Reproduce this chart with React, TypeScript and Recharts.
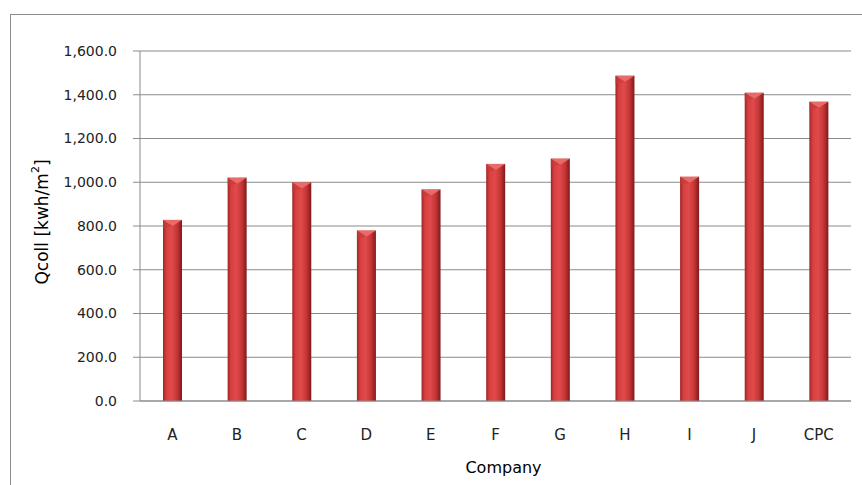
import React from "react";
import {
  BarChart,
  Bar,
  XAxis,
  YAxis,
  CartesianGrid,
  Label,
} from "recharts";

const companies = ["A", "B", "C", "D", "E", "F", "G", "H", "I", "J", "CPC"];
const qcoll = [828, 1021, 999, 779, 967, 1084, 1108, 1487, 1025, 1409, 1368];
const yTicks = [0, 200, 400, 600, 800, 1000, 1200, 1400, 1600];

const data = companies.map((name, i) => ({ name, qcoll: qcoll[i] }));

const FONT = "'DejaVu Sans', sans-serif";

// cylinder-ish bar with a small bevel on top, like the Excel 3D look
function BarShape(props: any) {
  const { x, y, width, height } = props;
  if (!height || height <= 0) return null;
  const cap = Math.min(6, height / 2);
  return (
    <g>
      <rect x={x} y={y} width={width} height={height} fill="url(#barGrad)" />
      <polygon
        points={`${x},${y} ${x + width},${y} ${x + width / 2},${y + cap}`}
        fill="#e86a6a"
      />
      <polygon
        points={`${x},${y} ${x + width / 2},${y + cap} ${x},${y + cap * 1.4}`}
        fill="#c43a3a"
        opacity={0.6}
      />
    </g>
  );
}

function YTitle(props: any) {
  const cx = 42;
  const cy = 222;
  return (
    <text
      x={cx}
      y={cy}
      transform={`rotate(-90 ${cx} ${cy})`}
      textAnchor="middle"
      dominantBaseline="central"
      fontFamily={FONT}
      fontSize={17}
      fill="#000"
    >
      Qcoll [kwh/m
      <tspan dy={-7} fontSize={11}>
        2
      </tspan>
      <tspan dy={7}>]</tspan>
    </text>
  );
}

export default function App() {
  return (
    <div
      style={{
        position: "absolute",
        left: 0,
        top: 0,
        width: 862,
        height: 485,
        overflow: "hidden",
        background: "#fff",
      }}
    >
      <div
        style={{
          position: "absolute",
          left: 10,
          top: 14,
          width: 880,
          height: 500,
          border: "1.5px solid #8c8c8c",
        }}
      />
      <div style={{ position: "absolute", left: 0, top: 0 }}>
        <BarChart
          width={862}
          height={485}
          data={data}
          margin={{ top: 51, right: 11, left: 0, bottom: 54 }}
          barSize={19}
        >
          <defs>
            <linearGradient id="barGrad" x1="0" y1="0" x2="1" y2="0">
              <stop offset="0%" stopColor="#9e2424" />
              <stop offset="18%" stopColor="#d84040" />
              <stop offset="45%" stopColor="#e04a4a" />
              <stop offset="75%" stopColor="#c53535" />
              <stop offset="100%" stopColor="#7e1a1a" />
            </linearGradient>
          </defs>
          <CartesianGrid
            vertical={false}
            stroke="#8a8a8a"
            strokeWidth={1}
          />
          <XAxis
            dataKey="name"
            height={30}
            tickLine={false}
            tickSize={0}
            tickMargin={28}
            axisLine={{ stroke: "#8a8a8a" }}
            tick={{ fontSize: 15, fill: "#222", fontFamily: FONT }}
            interval={0}
          >
            <Label
              content={(p: any) => {
                const vb = p.viewBox;
                return (
                  <text
                    x={vb.x + vb.width / 2 + 8}
                    y={467}
                    textAnchor="middle"
                    dominantBaseline="central"
                    fontFamily={FONT}
                    fontSize={16}
                    fill="#000"
                  >
                    Company
                  </text>
                );
              }}
            />
          </XAxis>
          <YAxis
            width={140}
            domain={[0, 1600]}
            ticks={yTicks}
            interval={0}
            tickSize={7}
            tickMargin={16}
            tickLine={{ stroke: "#8a8a8a" }}
            axisLine={{ stroke: "#8a8a8a" }}
            tick={{ fontSize: 14, fill: "#222", fontFamily: FONT }}
            tickFormatter={(v: number) =>
              v.toLocaleString("en-US", {
                minimumFractionDigits: 1,
                maximumFractionDigits: 1,
              })
            }
          >
            <Label content={YTitle} />
          </YAxis>
          <Bar
            dataKey="qcoll"
            shape={BarShape}
            isAnimationActive={false}
          />
        </BarChart>
      </div>
    </div>
  );
}
